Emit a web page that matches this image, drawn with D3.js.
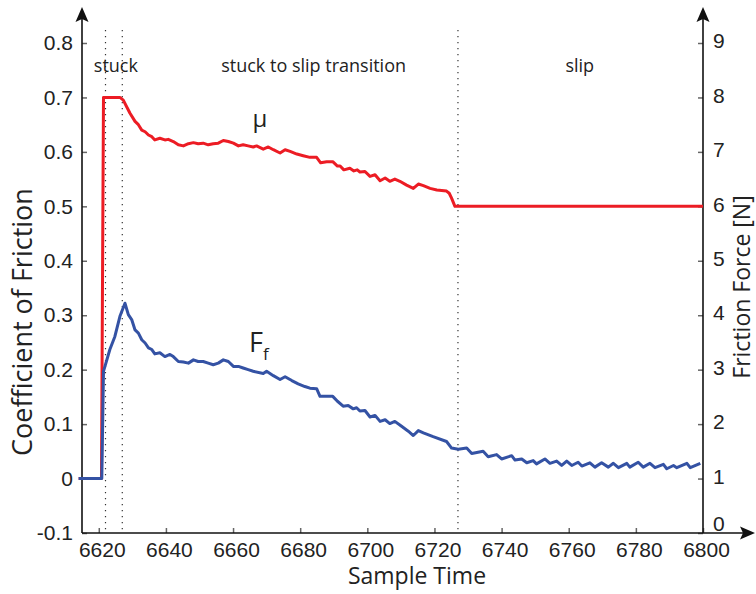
<!DOCTYPE html>
<html>
<head>
<meta charset="utf-8">
<script src="https://cdn.jsdelivr.net/npm/d3@7"></script>
<style>
  html, body { margin: 0; padding: 0; background: #fff; }
  svg { display: block; font-family: "Open Sans", "Noto Sans", sans-serif; }
  .tick text { fill: #222; }
  .tick line { stroke: #666; stroke-width: 1.5; }
</style>
</head>
<body>
<div id="chart"></div>
<script>
// ─── Data ───────────────────────────────────────────────────

// coefficient of friction (left axis)
const muTime = [6614, 6620.8, 6621.4, 6626.3, 6627.3, 6628.3, 6629.3, 6630.8, 6631.8, 6632.8,
  6633.8, 6634.8, 6635.8, 6636.7, 6638.2, 6639.7, 6640.7, 6642.2, 6643.7, 6645.2,
  6646.7, 6648.2, 6649.6, 6651.1, 6652.6, 6654.1, 6655.6, 6657.1, 6658.6, 6660.1,
  6661.6, 6663.0, 6664.5, 6666.0, 6667.0, 6669.0, 6670.5, 6672.0, 6674.0, 6675.5,
  6677.0, 6679.0, 6680.9, 6682.9, 6684.9, 6686.1, 6687.9, 6689.7, 6691.1, 6691.9,
  6693.0, 6694.8, 6696.0, 6697.0, 6697.8, 6699.3, 6700.8, 6702.3, 6703.8, 6705.3,
  6706.7, 6708.2, 6709.7, 6711.7, 6713.7, 6715.2, 6716.7, 6718.7, 6720.7, 6723.6,
  6724.4, 6725.1, 6726.1, 6800];
const muValue = [0, 0, 0.700, 0.700, 0.695, 0.683, 0.671, 0.656, 0.650, 0.640,
  0.637, 0.631, 0.628, 0.622, 0.625, 0.622, 0.623, 0.619, 0.613, 0.611,
  0.615, 0.617, 0.615, 0.616, 0.613, 0.615, 0.616, 0.621, 0.619, 0.616,
  0.611, 0.613, 0.611, 0.609, 0.611, 0.605, 0.609, 0.604, 0.598, 0.604,
  0.601, 0.596, 0.593, 0.590, 0.590, 0.580, 0.582, 0.582, 0.574, 0.574,
  0.567, 0.570, 0.565, 0.567, 0.563, 0.564, 0.555, 0.558, 0.547, 0.552,
  0.546, 0.550, 0.546, 0.539, 0.533, 0.541, 0.538, 0.533, 0.530, 0.528,
  0.524, 0.515, 0.500, 0.500];

// friction force in N (right axis)
const forceTime = [6614, 6620.9, 6621.4, 6623.3, 6624.8, 6626.3, 6627.8, 6628.8, 6629.8, 6630.8,
  6631.8, 6632.8, 6633.8, 6634.8, 6635.8, 6636.7, 6638.2, 6639.7, 6641.2, 6642.2,
  6643.7, 6645.2, 6646.7, 6648.2, 6649.6, 6651.1, 6652.6, 6654.1, 6655.6, 6657.1,
  6658.6, 6660.1, 6661.6, 6663.0, 6664.5, 6666.0, 6669.0, 6670.0, 6672.0, 6674.0,
  6675.5, 6677.5, 6679.4, 6681.4, 6682.9, 6684.9, 6685.9, 6687.9, 6689.7, 6691.1,
  6692.8, 6694.3, 6695.8, 6696.8, 6697.8, 6699.3, 6700.8, 6702.3, 6703.8, 6705.3,
  6706.7, 6708.2, 6710.2, 6712.2, 6713.7, 6715.2, 6716.7, 6719.6, 6723.6, 6725.1,
  6727.1, 6729.6, 6731.1, 6734.5, 6736.0, 6738.5, 6740.0, 6743.0, 6744.0, 6746.0,
  6747.5, 6749.4, 6750.4, 6752.9, 6754.4, 6756.4, 6757.9, 6759.4, 6760.9, 6762.8,
  6763.9, 6766.3, 6767.8, 6769.8, 6771.8, 6773.3, 6774.8, 6777.3, 6778.2, 6780.7,
  6782.2, 6784.2, 6785.7, 6788.2, 6789.2, 6791.2, 6792.2, 6795.2, 6796.2, 6799.2];
const forceValue = [1.00, 1.00, 2.97, 3.37, 3.61, 3.98, 4.22, 4.01, 3.92, 3.73,
  3.67, 3.55, 3.49, 3.40, 3.37, 3.29, 3.31, 3.24, 3.28, 3.24,
  3.15, 3.14, 3.12, 3.18, 3.15, 3.15, 3.12, 3.09, 3.12, 3.18,
  3.15, 3.06, 3.06, 3.03, 3.00, 2.97, 2.93, 2.97, 2.89, 2.82,
  2.87, 2.80, 2.74, 2.69, 2.66, 2.65, 2.51, 2.51, 2.51, 2.42,
  2.33, 2.34, 2.28, 2.30, 2.24, 2.25, 2.13, 2.16, 2.05, 2.08,
  2.01, 2.05, 1.96, 1.87, 1.79, 1.88, 1.84, 1.77, 1.68, 1.56,
  1.54, 1.56, 1.46, 1.50, 1.40, 1.44, 1.36, 1.42, 1.34, 1.36,
  1.29, 1.33, 1.27, 1.36, 1.28, 1.32, 1.24, 1.32, 1.24, 1.30,
  1.23, 1.29, 1.21, 1.29, 1.21, 1.28, 1.20, 1.28, 1.21, 1.30,
  1.21, 1.28, 1.20, 1.26, 1.18, 1.24, 1.20, 1.28, 1.20, 1.28];

// phase boundaries and labels
const phaseBounds = [6622, 6627, 6727];
const phaseNames = ["stuck", "stuck to slip transition", "slip"];
const phaseCenters = [6625.1, 6684, 6763.3];

// ticks
const timeTicks = [6620, 6640, 6660, 6680, 6700, 6720, 6740, 6760, 6780, 6800];
const muTicks = [-0.1, 0, 0.1, 0.2, 0.3, 0.4, 0.5, 0.6, 0.7, 0.8];
const forceTicks = [0, 1, 2, 3, 4, 5, 6, 7, 8, 9];

// ─── Layout ─────────────────────────────────────────────────

const W = 756, H = 594;
const plotL = 82, plotR = 703, plotT = 43, plotB = 533;
const red = "#ec1c24", blue = "#3452a4";

const x = d3.scaleLinear().domain([6615, 6800]).range([plotL, plotR]);
const yMu = d3.scaleLinear().domain([-0.1, 0.8]).range([plotB, plotT]);
const yF = d3.scaleLinear().domain([0, 9]).range([plotB, plotT]);

const svg = d3.select("#chart").append("svg")
  .attr("width", W).attr("height", H);

// ─── Phase dividers ─────────────────────────────────────────

svg.append("g")
  .selectAll("line")
  .data(phaseBounds)
  .join("line")
  .attr("x1", d => x(d)).attr("x2", d => x(d))
  .attr("y1", 30).attr("y2", plotB)
  .attr("stroke", "#333")
  .attr("stroke-width", 1.2)
  .attr("stroke-dasharray", "1.2,4.8");

svg.append("g")
  .selectAll("text")
  .data(phaseNames)
  .join("text")
  .attr("x", (d, i) => x(phaseCenters[i]))
  .attr("y", 72)
  .attr("text-anchor", "middle")
  .attr("font-size", 18)
  .attr("fill", "#222")
  .text(d => d);

// ─── Axes ───────────────────────────────────────────────────

// plain hyphen for negatives, bare "0" at zero
const fmtMu = d => (d === 0 ? "0" : d.toFixed(1));

const gLeft = svg.append("g")
  .attr("transform", `translate(${plotL},0)`)
  .call(d3.axisLeft(yMu).tickValues(muTicks).tickFormat(fmtMu)
    .tickSizeInner(-5).tickSizeOuter(0).tickPadding(9));

const gRight = svg.append("g")
  .attr("transform", `translate(${plotR},0)`)
  .call(d3.axisRight(yF).tickValues(forceTicks)
    .tickSizeInner(-5).tickSizeOuter(0).tickPadding(10));

const gBottom = svg.append("g")
  .attr("transform", `translate(0,${plotB})`)
  .call(d3.axisBottom(x).tickValues(timeTicks).tickFormat(d3.format("d"))
    .tickSizeInner(-5).tickSizeOuter(0).tickPadding(9));

[gLeft, gRight, gBottom].forEach(g => {
  g.select(".domain").remove();
  g.selectAll(".tick text").attr("font-size", 21).attr("font-family", null);
});

// nudge labels like the original: x labels a little right, right "0" lifted off the x axis
gBottom.selectAll(".tick text").attr("x", 3);
gRight.selectAll(".tick text").attr("y", d => (d === 0 ? -9 : -2));

// axis lines with arrow heads
const axisLines = svg.append("g").attr("stroke", "#111").attr("stroke-width", 1.6);
axisLines.append("line").attr("x1", plotL).attr("x2", plotL).attr("y1", plotB).attr("y2", 14);
axisLines.append("line").attr("x1", plotR).attr("x2", plotR).attr("y1", plotB).attr("y2", 14);
axisLines.append("line").attr("x1", plotL).attr("x2", 748).attr("y1", plotB).attr("y2", plotB);

const arrow = (tx, ty, dir) => {
  // dir: "up" or "right"
  const p = dir === "up"
    ? [[tx, ty], [tx + 6.5, ty + 15], [tx, ty + 12], [tx - 6.5, ty + 15]]
    : [[tx, ty], [tx - 15, ty - 6.5], [tx - 12, ty], [tx - 15, ty + 6.5]];
  svg.append("path").attr("d", "M" + p.join("L") + "Z").attr("fill", "#111");
};
arrow(plotL, 7, "up");
arrow(plotR, 7, "up");
arrow(755, plotB, "right");

// axis titles
svg.append("text")
  .attr("transform", `translate(32,322) rotate(-90)`)
  .attr("text-anchor", "middle")
  .attr("font-size", 27)
  .attr("fill", "#222")
  .text("Coefficient of Friction");

svg.append("text")
  .attr("transform", `translate(750,287) rotate(-90)`)
  .attr("text-anchor", "middle")
  .attr("font-size", 23)
  .attr("fill", "#222")
  .text("Friction Force [N]");

svg.append("text")
  .attr("x", 417).attr("y", 584)
  .attr("text-anchor", "middle")
  .attr("font-size", 23)
  .attr("fill", "#222")
  .text("Sample Time");

// ─── Series ─────────────────────────────────────────────────

const muLine = d3.line().x(i => x(muTime[i])).y(i => yMu(muValue[i]));
const forceLine = d3.line().x(i => x(forceTime[i])).y(i => yF(forceValue[i]));

svg.append("path")
  .attr("d", muLine(d3.range(muTime.length)))
  .attr("fill", "none")
  .attr("stroke", red)
  .attr("stroke-width", 3)
  .attr("stroke-linejoin", "round");

svg.append("path")
  .attr("d", forceLine(d3.range(forceTime.length)))
  .attr("fill", "none")
  .attr("stroke", blue)
  .attr("stroke-width", 3)
  .attr("stroke-linejoin", "round");

// series labels
svg.append("text")
  .attr("x", x(6668)).attr("y", 127)
  .attr("text-anchor", "middle")
  .attr("font-size", 24)
  .attr("fill", "#222")
  .text("μ");

const ff = svg.append("text")
  .attr("x", 249).attr("y", 352)
  .attr("font-size", 27)
  .attr("fill", "#222");
ff.append("tspan").text("F");
ff.append("tspan").attr("font-size", 17).attr("dy", 8).text("f");
</script>
</body>
</html>
